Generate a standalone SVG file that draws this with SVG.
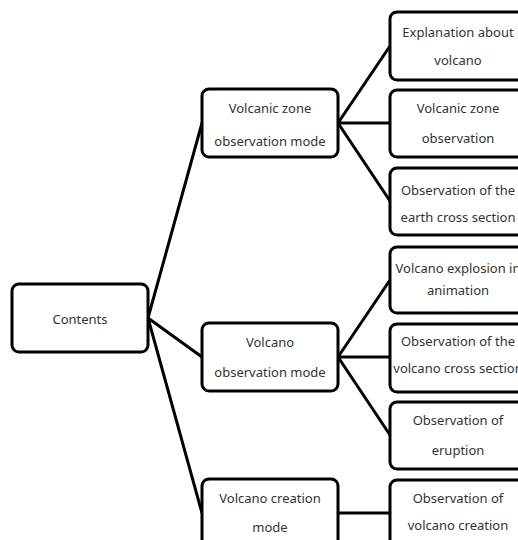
<svg xmlns="http://www.w3.org/2000/svg" width="518" height="540" viewBox="0 0 518 540">
<style>
.box{fill:#fff;stroke:#000;stroke-width:3}
.t{font-family:"Noto Sans","Open Sans",sans-serif;font-size:13px;fill:#333;text-anchor:middle}
.c{stroke:#000;stroke-width:3;fill:none}
</style>
<rect width="518" height="540" fill="#fff"/>
<g id="connectors">
<path class="c" d="M148 318L202 123M148 318L202 357M148 318L202 513"/>
<path class="c" d="M338 123L390 46M338 123L390 123M338 123L390 201"/>
<path class="c" d="M338 357L390 280M338 357L390 357M338 357L390 435"/>
<path class="c" d="M338 513L390 513"/>
</g>
<g id="contents"><rect class="box" x="12" y="284" width="136" height="68" rx="7"/><text class="t" x="80" y="324">Contents</text></g>
<g id="volcanic-zone-mode"><rect class="box" x="202" y="89" width="136" height="68" rx="7"/><text class="t" x="270" y="113">Volcanic zone</text><text class="t" x="270" y="146">observation mode</text></g>
<g id="volcano-mode"><rect class="box" x="202" y="323" width="136" height="68" rx="7"/><text class="t" x="270" y="347">Volcano</text><text class="t" x="270" y="377">observation mode</text></g>
<g id="creation-mode"><rect class="box" x="202" y="479" width="136" height="68" rx="7"/><text class="t" x="270" y="503">Volcano creation</text><text class="t" x="270" y="532">mode</text></g>
<g id="explanation"><rect class="box" x="390" y="12" width="136" height="68" rx="7"/><text class="t" x="458" y="37">Explanation about</text><text class="t" x="458" y="65">volcano</text></g>
<g id="zone-observation"><rect class="box" x="390" y="90" width="136" height="67" rx="7"/><text class="t" x="458" y="113">Volcanic zone</text><text class="t" x="458" y="143">observation</text></g>
<g id="earth-cross"><rect class="box" x="390" y="168" width="136" height="67" rx="7"/><text class="t" x="458" y="195">Observation of the</text><text class="t" x="458" y="222">earth cross section</text></g>
<g id="explosion"><rect class="box" x="390" y="247" width="136" height="66" rx="7"/><text class="t" x="458" y="273">Volcano explosion in</text><text class="t" x="458" y="295">animation</text></g>
<g id="volcano-cross"><rect class="box" x="390" y="324" width="136" height="68" rx="7"/><text class="t" x="458" y="346">Observation of the</text><text class="t" x="458" y="373">volcano cross section</text></g>
<g id="eruption"><rect class="box" x="390" y="402" width="136" height="67" rx="7"/><text class="t" x="458" y="425">Observation of</text><text class="t" x="458" y="455">eruption</text></g>
<g id="volcano-creation"><rect class="box" x="390" y="480" width="136" height="68" rx="7"/><text class="t" x="458" y="503">Observation of</text><text class="t" x="458" y="530">volcano creation</text></g>
</svg>
